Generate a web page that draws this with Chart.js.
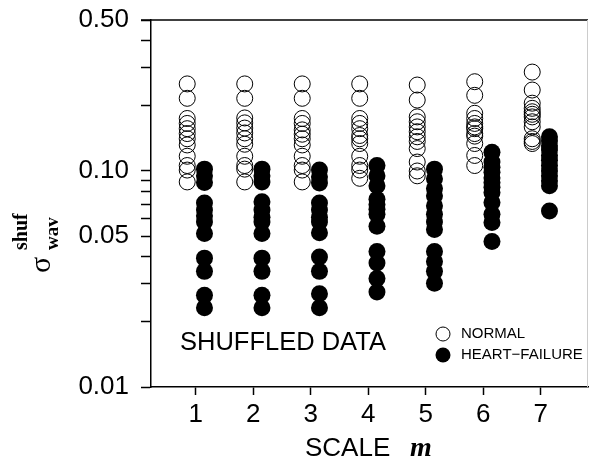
<!DOCTYPE html>
<html>
<head>
<meta charset="utf-8">
<script src="https://cdn.jsdelivr.net/npm/chart.js@4"></script>
<style>
  body { margin: 0; background: #fff; }
  #chart { display: block; }
</style>
</head>
<body>
<canvas id="chart" width="589" height="474"></canvas>
<script>
// scales m on the x axis
const scales = [1, 2, 3, 4, 5, 6, 7];

// normal subjects, sigma_wav^shuf per scale
const normalM1 = [0.253, 0.217, 0.175, 0.166, 0.157, 0.149, 0.141, 0.132, 0.117, 0.106, 0.101, 0.089];
const normalM2 = [0.253, 0.217, 0.176, 0.167, 0.158, 0.150, 0.141, 0.133, 0.117, 0.106, 0.102, 0.089];
const normalM3 = [0.253, 0.217, 0.175, 0.166, 0.155, 0.148, 0.141, 0.132, 0.117, 0.106, 0.101, 0.089];
const normalM4 = [0.253, 0.217, 0.175, 0.166, 0.157, 0.146, 0.141, 0.134, 0.117, 0.106, 0.101, 0.0925];
const normalM5 = [0.250, 0.213, 0.178, 0.169, 0.160, 0.152, 0.144, 0.137, 0.127, 0.110, 0.100, 0.095];
const normalM6 = [0.259, 0.224, 0.185, 0.175, 0.166, 0.160, 0.157, 0.149, 0.145, 0.134, 0.118, 0.106];
const normalM7 = [0.287, 0.237, 0.206, 0.195, 0.188, 0.183, 0.178, 0.169, 0.160, 0.141, 0.137, 0.134];

// heart-failure subjects
const failM1 = [0.102, 0.095, 0.0885, 0.071, 0.066, 0.062, 0.058, 0.0513, 0.0395, 0.0343, 0.0266, 0.0233];
const failM2 = [0.102, 0.095, 0.089, 0.072, 0.066, 0.061, 0.058, 0.0513, 0.0395, 0.0343, 0.0266, 0.0233];
const failM3 = [0.101, 0.094, 0.088, 0.071, 0.066, 0.061, 0.058, 0.0518, 0.0400, 0.0343, 0.0270, 0.0233];
const failM4 = [0.106, 0.095, 0.0854, 0.074, 0.070, 0.0665, 0.063, 0.0555, 0.0424, 0.0375, 0.0318, 0.0275];
const failM5 = [0.102, 0.092, 0.083, 0.0767, 0.069, 0.063, 0.058, 0.0536, 0.0424, 0.0381, 0.0343, 0.0302];
const failM6 = [0.122, 0.110, 0.104, 0.0986, 0.093, 0.0885, 0.084, 0.0795, 0.0714, 0.063, 0.0577, 0.0472];
const failM7 = [0.144, 0.138, 0.131, 0.125, 0.118, 0.112, 0.106, 0.100, 0.095, 0.090, 0.0854, 0.0652];

const yTicks = [0.5, 0.4, 0.3, 0.2, 0.1, 0.09, 0.08, 0.07, 0.06, 0.05, 0.04, 0.03, 0.02, 0.01];
const yLabels = { 0.5: "0.50", 0.1: "0.10", 0.05: "0.05", 0.01: "0.01" };

const normalSets = [normalM1, normalM2, normalM3, normalM4, normalM5, normalM6, normalM7];
const failSets = [failM1, failM2, failM3, failM4, failM5, failM6, failM7];

function toPoints(sets, shift) {
  const pts = [];
  sets.forEach((vals, i) => {
    vals.forEach(v => pts.push({ x: scales[i] + shift, y: v }));
  });
  return pts;
}

const sans = 'Arial, "Liberation Sans", sans-serif';
const serif = '"Liberation Serif", "Times New Roman", serif';
const bigFont = { family: sans, size: 26 };

const extras = {
  id: 'extras',
  afterDraw(chart) {
    const ctx = chart.ctx;
    const a = chart.chartArea;
    ctx.save();
    // top border and right border
    ctx.strokeStyle = '#000';
    ctx.lineWidth = 1.5;
    ctx.beginPath();
    ctx.moveTo(a.left - 10, a.top);
    ctx.lineTo(a.right, a.top);
    ctx.stroke();
    ctx.strokeStyle = '#ccc';
    ctx.lineWidth = 1;
    ctx.beginPath();
    ctx.moveTo(a.right - 0.5, a.top);
    ctx.lineTo(a.right - 0.5, a.bottom);
    ctx.stroke();

    ctx.fillStyle = '#000';
    ctx.strokeStyle = '#000';
    ctx.textBaseline = 'middle';
    ctx.textAlign = 'left';
    ctx.font = '25.5px ' + sans;
    ctx.fillText('SHUFFLED DATA', 180, 343);

    // legend
    ctx.lineWidth = 1;
    ctx.beginPath();
    ctx.arc(443, 334, 7, 0, Math.PI * 2);
    ctx.fillStyle = '#fff';
    ctx.fill();
    ctx.stroke();
    ctx.beginPath();
    ctx.arc(443, 355, 7.5, 0, Math.PI * 2);
    ctx.fillStyle = '#000';
    ctx.fill();
    ctx.font = '15px ' + sans;
    ctx.fillText('NORMAL', 461, 334);
    ctx.fillText('HEART\u2212FAILURE', 461, 355);

    // x title
    ctx.font = '26px ' + sans;
    ctx.textBaseline = 'alphabetic';
    ctx.fillText('SCALE', 305, 456);
    ctx.font = 'italic bold 28px ' + serif;
    ctx.fillText('m', 410, 456);

    // y title, rotated
    ctx.translate(50, 273);
    ctx.rotate(-Math.PI / 2);
    ctx.font = '30px ' + serif;
    ctx.fillText('\u03c3', 0, 0);
    ctx.font = 'bold 20px ' + serif;
    ctx.fillText('shuf', 23, -23);
    ctx.font = 'bold 19px ' + serif;
    ctx.fillText('wav', 23, 8);
    ctx.restore();
  }
};

new Chart(document.getElementById('chart'), {
  type: 'scatter',
  data: {
    datasets: [
      {
        label: 'NORMAL',
        data: toPoints(normalSets, -0.15),
        pointRadius: 8,
        pointBorderWidth: 1,
        pointBorderColor: '#000',
        pointBackgroundColor: 'rgba(255,255,255,0)'
      },
      {
        label: 'HEART-FAILURE',
        data: toPoints(failSets, 0.15),
        pointRadius: 8.5,
        pointBorderWidth: 0,
        pointBorderColor: '#000',
        pointBackgroundColor: '#000'
      }
    ]
  },
  options: {
    responsive: false,
    animation: false,
    layout: { autoPadding: false, padding: { left: 0, top: 20, right: 1, bottom: 0 } },
    plugins: { legend: { display: false }, tooltip: { enabled: false } },
    scales: {
      x: {
        type: 'linear',
        min: 0.22,
        max: 7.82,
        afterBuildTicks: s => { s.ticks = scales.map(v => ({ value: v })); },
        afterFit: s => { s.height = 87; s.paddingLeft = 0; s.paddingRight = 0; },
        border: { color: '#000', width: 1.5 },
        grid: { drawOnChartArea: false, tickLength: 8, tickColor: '#000', tickWidth: 1.5 },
        ticks: { color: '#000', font: bigFont, padding: 4, maxRotation: 0 }
      },
      y: {
        type: 'logarithmic',
        min: 0.01,
        max: 0.5,
        afterBuildTicks: s => { s.ticks = yTicks.map(v => ({ value: v })); },
        afterFit: s => { s.width = 151; s.paddingTop = 0; s.paddingBottom = 0; },
        border: { color: '#000', width: 1.5 },
        grid: { drawOnChartArea: false, tickLength: 10, tickColor: '#000', tickWidth: 1.5 },
        ticks: {
          color: '#000',
          font: bigFont,
          padding: 12,
          autoSkip: false,
          callback: v => yLabels[v] || ''
        }
      }
    }
  },
  plugins: [extras]
});
</script>
</body>
</html>
